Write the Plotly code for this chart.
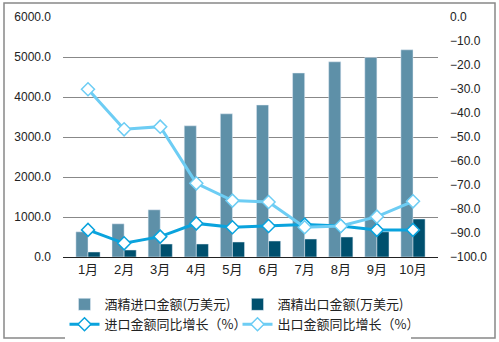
import plotly.graph_objects as go

months = ["1月", "2月", "3月", "4月", "5月", "6月", "7月", "8月", "9月", "10月"]
import_amt = [630, 830, 1180, 3280, 3580, 3800, 4600, 4880, 4990, 5180]
export_amt = [125, 175, 325, 325, 375, 400, 450, 500, 630, 950]
import_yoy = [-88.7, -94.3, -91.5, -86.0, -87.6, -87.1, -86.5, -87.1, -88.7, -88.7]
export_yoy = [-30.1, -46.8, -45.7, -69.3, -76.5, -77.1, -87.6, -87.1, -83.2, -76.8]

names = ["酒精进口金额(万美元)", "酒精出口金额(万美元)", "进口金额同比增长（%）", "出口金额同比增长（%）"]

fig = go.Figure()
fig.add_trace(go.Bar(x=months, y=import_amt, name=names[0], marker_color="#5E90A8"))
fig.add_trace(go.Bar(x=months, y=export_amt, name=names[1], marker_color="#00506E"))
fig.add_trace(go.Scatter(x=months, y=import_yoy, name=names[2], yaxis="y2", mode="lines+markers",
                         line=dict(color="#0AA3DD", width=3),
                         marker=dict(symbol="diamond", size=10, color="white",
                                     line=dict(color="#0AA3DD", width=1.5))))
fig.add_trace(go.Scatter(x=months, y=export_yoy, name=names[3], yaxis="y2", mode="lines+markers",
                         line=dict(color="#6DCDF4", width=3),
                         marker=dict(symbol="diamond", size=10, color="white",
                                     line=dict(color="#6DCDF4", width=1.5))))

L, R, T, B = 63, 61, 17, 85
W, H = 499, 342
pw, ph = W - L - R, H - T - B

fig.update_layout(
    width=W, height=H,
    margin=dict(l=L, r=R, t=T, b=B, autoexpand=False),
    paper_bgcolor="white", plot_bgcolor="white",
    font=dict(family="Liberation Sans, Arial, Noto Sans CJK SC", size=12, color="#222"),
    barmode="group", bargap=0.33, bargroupgap=0,
    showlegend=True,
    legend=dict(orientation="h", x=0.5 - 13 / pw, xanchor="center", y=-0.135, yanchor="top",
                entrywidth=128, font=dict(size=13, family="Noto Sans CJK SC, Liberation Sans"),
                tracegroupgap=0, itemwidth=30),
    xaxis=dict(showline=True, linecolor="#222", linewidth=1, ticks="", showgrid=False,
               tickfont=dict(size=13, family="Liberation Sans, Noto Sans CJK SC")),
    yaxis=dict(range=[0, 6000], dtick=1000, tickformat=".1f", showgrid=True, gridcolor="#888",
               gridwidth=1, zeroline=False, showline=False, ticks="", ticklabelstandoff=11,
               tickfont=dict(size=12)),
    yaxis2=dict(range=[-100, 0], dtick=10, tickformat=".1f", overlaying="y", side="right",
                showgrid=False, zeroline=False, showline=False, ticks="", ticklabelstandoff=11,
                tickfont=dict(size=12)),
    shapes=[dict(type="rect", xref="paper", yref="paper",
                 x0=(4 - L) / pw, x1=(495 - L) / pw,
                 y0=(H - B - 338) / ph, y1=(H - B - 3) / ph,
                 line=dict(color="#888", width=1.5), fillcolor="rgba(0,0,0,0)", layer="below")],
)

fig.write_html("out.html")
